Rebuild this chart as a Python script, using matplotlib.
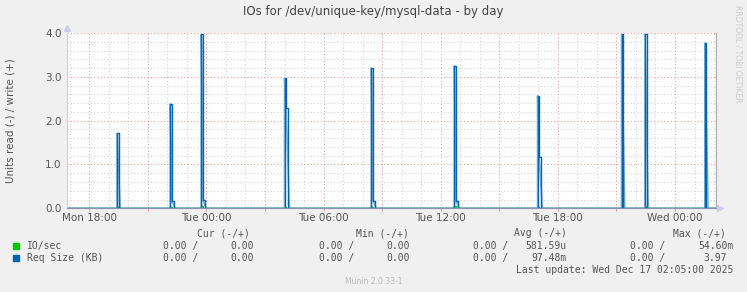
import matplotlib
matplotlib.use("Agg")
import matplotlib.pyplot as plt
from matplotlib.ticker import MultipleLocator, FuncFormatter

# hours counted from Mon 00:00, samples every 5 minutes
step = 5 / 60.0
t_left, t_right = 16.86, 50.1

spike_start = [19.42, 22.15, 23.74, 28.0, 32.45, 36.7, 40.96, 45.26, 46.46, 49.53]
spike_write = [
    [1.71],
    [2.38, 0.17],
    [3.97, 0.18],
    [2.97, 2.29],
    [3.20, 0.17],
    [3.25, 0.17],
    [2.57, 1.18],
    [3.97],
    [3.97],
    [3.77],
]
spike_io = [0.03, 0.04, 0.05, 0.03, 0.04, 0.05, 0.03, 0.05, 0.04, 0.05]

day_labels = {18: "Mon 18:00", 24: "Tue 00:00", 30: "Tue 06:00",
              36: "Tue 12:00", 42: "Tue 18:00", 48: "Wed 00:00"}

legend_rows = [
    ("IO/sec", "#00CC00", ["0.00 /", "0.00", "0.00 /", "0.00", "0.00 /", "581.59u", "0.00 /", "54.60m"]),
    ("Req Size (KB)", "#0066B3", ["0.00 /", "0.00", "0.00 /", "0.00", "0.00 /", "97.48m", "0.00 /", "3.97"]),
]
col_heads = ["Cur (-/+)", "Min (-/+)", "Avg (-/+)", "Max (-/+)"]

# build step series
ts, ys, tl, yl, ti, yi = [t_left], [0], [t_left], [0], [t_left], [0]
for s, vals, io in zip(spike_start, spike_write, spike_io):
    ts += [s]; ys += [0]
    tl += [s]; yl += [0]
    for k, v in enumerate(vals):
        ts.append(s + k * step); ys.append(v)
        tl.append(s + k * step); yl.append(v)
    ts.append(s + len(vals) * step); ys.append(0)
    tl.append(s + (len(vals) + 1) * step); yl.append(0)
    ti += [s, s + step]; yi += [io, 0]
ts.append(t_right); ys.append(0)
tl.append(t_right); yl.append(0)
ti.append(t_right); yi.append(0)

W, H = 747, 292
fig = plt.figure(figsize=(W / 100, H / 100), dpi=100)
fig.patch.set_facecolor("#F0F0F0")
x0, x1, y0, y1 = 67, 716, 33, 208.3
ax = fig.add_axes([x0 / W, 1 - y1 / H, (x1 - x0) / W, (y1 - y0) / H])
ax.set_facecolor("white")

ax.plot(ti, yi, color="#00CC00", lw=1.0, drawstyle="steps-post")
ax.plot(tl, yl, color="#80b3d9", lw=1.2)
ax.plot(ts, ys, color="#0066B3", lw=1.0, drawstyle="steps-post")

ax.set_xlim(t_left, t_right)
ax.set_ylim(0, 4.0)

ax.xaxis.set_major_locator(MultipleLocator(3))
ax.xaxis.set_minor_locator(MultipleLocator(1))
ax.xaxis.set_major_formatter(FuncFormatter(lambda v, p: day_labels.get(int(round(v)), "")))
ax.yaxis.set_major_locator(MultipleLocator(1))
ax.yaxis.set_minor_locator(MultipleLocator(0.2))
ax.yaxis.set_major_formatter(FuncFormatter(lambda v, p: "%.1f" % v))

ax.set_axisbelow(True)
ax.grid(which="major", color="#eaa0a0", linestyle=(0, (1, 2)), lw=0.8)
ax.grid(which="minor", color="#d4d4d4", linestyle=(0, (1, 2)), lw=0.8)

ax.tick_params(axis="x", which="major", length=2, color="#e8a0a0", labelsize=7.5,
               labelcolor="#555555", pad=1.5)
ax.tick_params(axis="x", which="minor", length=0)
ax.tick_params(axis="y", which="both", length=0, labelsize=7.5, labelcolor="#555555", pad=4)

ax.spines["top"].set_visible(False)
ax.spines["right"].set_color("#aaaaaa")
ax.spines["left"].set_color("#ccccf0")
ax.spines["bottom"].set_color("#9090b0")
for sp in ax.spines.values():
    sp.set_linewidth(0.8)
ax.plot(0, 1.03, "^", color="#ccccf0", ms=4, transform=ax.transAxes, clip_on=False)
ax.plot(1.006, 0, ">", color="#ccccf0", ms=4, transform=ax.transAxes, clip_on=False)

fig.text(373.5 / W, 1 - 11 / H, "IOs for /dev/unique-key/mysql-data - by day",
         ha="center", va="center", fontsize=8.5, color="#444444")
fig.text(11 / W, 1 - 120.7 / H, "Units read (-) / write (+)", rotation=90,
         ha="center", va="center", fontsize=7.5, color="#555555")
fig.text(738 / W, 1 - 5 / H, "RRDTOOL / TOBI OETIKER", rotation=270,
         ha="center", va="top", fontsize=5.5, color="#cccccc")

mono = dict(family="DejaVu Sans Mono", fontsize=7.0, color="#555555", va="center")
head_right = [250, 409, 566.7, 726]
for txt, xr in zip(col_heads, head_right):
    fig.text(xr / W, 1 - 233 / H, txt, ha="right", **mono)

left_cols = [162.7, 318.7, 473.3, 630]
right_cols = [260, 416, 566.7, 733.3]
row_y = [245.7, 257.7]
for (name, col, vals), yy in zip(legend_rows, row_y):
    fig.patches.append(plt.Rectangle((13 / W, 1 - (yy + 3) / H), 6 / W, 6 / H,
                                     transform=fig.transFigure, color=col))
    fig.text(27 / W, 1 - yy / H, name, ha="left", **mono)
    for j in range(4):
        fig.text(left_cols[j] / W, 1 - yy / H, vals[2 * j], ha="left", **mono)
        v = vals[2 * j + 1]
        xr = right_cols[j] if v[-1].isalpha() else right_cols[j] - 6
        fig.text(xr / W, 1 - yy / H, v, ha="right", **mono)

fig.text(733 / W, 1 - 270 / H, "Last update: Wed Dec 17 02:05:00 2025", ha="right", **mono)
fig.text(373.5 / W, 1 - 281 / H, "Munin 2.0.33-1", ha="center", va="center",
         fontsize=5.5, color="#bbbbbb")

fig.savefig("out.png", dpi=100, facecolor=fig.get_facecolor())
